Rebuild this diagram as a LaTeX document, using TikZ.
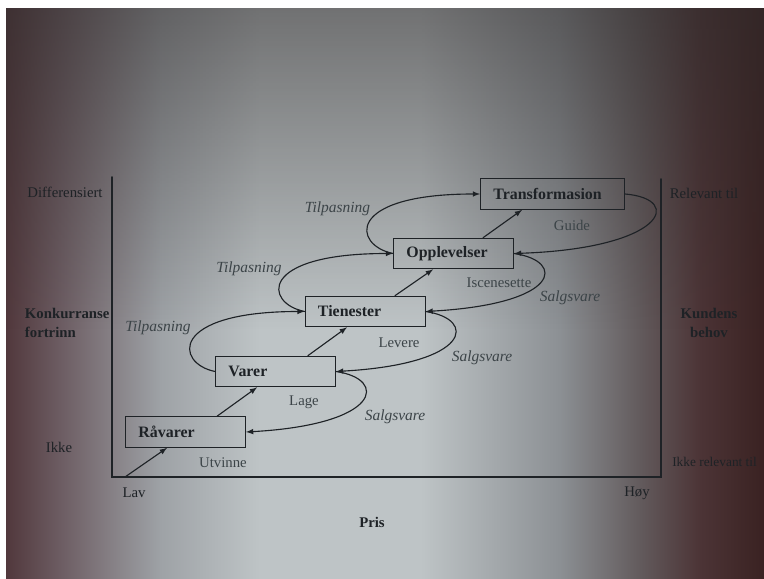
\documentclass[tikz,border=0pt]{standalone}
\usepackage{fontspec}
\setmainfont{Liberation Serif}
\usetikzlibrary{fadings}
\definecolor{blekk}{HTML}{1E2226}
\definecolor{graablekk}{HTML}{3C4448}
\definecolor{toppskygge}{HTML}{2E2A2A}
\definecolor{k1}{HTML}{4E3438}
\definecolor{k2}{HTML}{6C5C62}
\definecolor{k3}{HTML}{9EA2A6}
\definecolor{k4}{HTML}{BEC4C6}
\definecolor{k5}{HTML}{BEC4C6}
\definecolor{k6}{HTML}{8C9094}
\definecolor{k7}{HTML}{625A5C}
\definecolor{k8}{HTML}{4C3436}
\definecolor{k9}{HTML}{3A2222}
\pgfdeclarehorizontalshading{sider}{100bp}{color(0bp)=(k1); color(25bp)=(k1); color(28.9bp)=(k2); color(35.5bp)=(k3); color(42bp)=(k4); color(52.5bp)=(k5); color(61.6bp)=(k6); color(66.9bp)=(k7); color(70.8bp)=(k8); color(75bp)=(k9); color(100bp)=(k9)}
\tikzfading[name=oppover, bottom color=transparent!100, top color=transparent!0]
\begin{document}
\begin{tikzpicture}[x=0.025cm,y=0.025cm,line cap=round,
  trinn/.style={draw=blekk,line width=0.6pt,font=\fontsize{11.3}{13}\selectfont\bfseries,text=blekk,
    inner xsep=0.325cm,minimum height=0.77cm,text width=2.35cm,align=left},
  pil/.style={draw=blekk,line width=0.8pt,-latex},
  akse/.style={draw=blekk,line width=1.2pt},
  tekst/.style={font=\fontsize{10.5}{14}\selectfont,text=graablekk},
  randtekst/.style={font=\fontsize{10.5}{14}\selectfont,text=blekk},
  kursiv/.style={font=\fontsize{11}{13}\selectfont\itshape,text=graablekk},
  sidetekst/.style={font=\fontsize{10.5}{14}\selectfont\bfseries,text=blekk}]
\useasboundingbox (0,0) rectangle (764,579);
\shade[shading=sider] (0,0) rectangle (764,579);
\fill[toppskygge,fill opacity=0.55,path fading=oppover] (0,250) rectangle (764,579);
\fill[white] (0,571) rectangle (764,579);
\fill[white] (0,0) rectangle (6,579);
%\draw[step=50,very thin,color=gray] (0,0) grid (764,579);
\draw[akse] (112,402) -- (112,102) -- (661,102) -- (661,400);
\node[randtekst] (differensiert) at (65,387) {Differensiert};
\node[sidetekst,anchor=west,align=left] (konkurranse) at (20,256) {Konkurranse\\fortrinn};
\node[randtekst] (ikke) at (59,132) {Ikke};
\node[randtekst] (relevant) at (704,386) {Relevant til};
\node[sidetekst,align=center] (kundens) at (709,256) {Kundens\\behov};
\node[randtekst,anchor=west,inner sep=0pt,font=\fontsize{9.5}{12}\selectfont] (ikkerelevant) at (672,117) {Ikke relevant til};
\node[randtekst] (lav) at (134,86) {Lav};
\node[randtekst] (hoy) at (637,86) {Høy};
\node[sidetekst] (pris) at (372,57) {Pris};
\node[trinn] (ravarer) at (185.5,147) {Råvarer};
\node[trinn] (varer) at (275.5,207.5) {Varer};
\node[trinn] (tjenester) at (365,267.5) {Tienester};
\node[trinn] (opplevelser) at (453.5,325.5) {Opplevelser};
\node[trinn,text width=2.95cm] (transformasjon) at (552.5,385) {Transformasion};
\coordinate (origo) at (125,102);
\draw[pil] (origo) -- ([xshift=-0.46cm]ravarer.south);
\draw[pil] ([xshift=0.79cm]ravarer.north) -- ([xshift=-0.46cm]varer.south);
\draw[pil] ([xshift=0.81cm]varer.north) -- ([xshift=-0.45cm]tjenester.south);
\draw[pil] ([xshift=0.75cm]tjenester.north) -- ([xshift=-0.51cm]opplevelser.south);
\draw[pil] ([xshift=0.74cm]opplevelser.north) -- ([xshift=-0.76cm]transformasjon.south);
\node[tekst] (utvinne) at (223,116) {Utvinne};
\node[tekst] (lage) at (304,177) {Lage};
\node[tekst] (levere) at (399,236) {Levere};
\node[tekst] (iscenesette) at (499,296) {Iscenesette};
\node[tekst] (guide) at (572,354) {Guide};
\draw[pil] (varer.west) .. controls +(-40,8) and +(-136,0) .. (tjenester.west);
\draw[pil] (tjenester.west) .. controls +(-40,8) and +(-136,0) .. (opplevelser.west);
\draw[pil] (opplevelser.west) .. controls +(-40,8) and +(-136,0) .. (transformasjon.west);
\node[kursiv] (tilpasning1) at (158,251) {Tilpasning};
\node[kursiv] (tilpasning2) at (249,310) {Tilpasning};
\node[kursiv] (tilpasning3) at (337.5,370) {Tilpasning};
\draw[pil] (transformasjon.east) .. controls +(60,-5) and +(150,5) .. (opplevelser.east);
\draw[pil] (opplevelser.east) .. controls +(52,-7.5) and +(136,7.5) .. (tjenester.east);
\draw[pil] (tjenester.east) .. controls +(52,-7.5) and +(136,7.5) .. (varer.east);
\draw[pil] (varer.east) .. controls +(52,-7.5) and +(136,7.5) .. (ravarer.east);
\node[kursiv] (salgsvare1) at (570,281) {Salgsvare};
\node[kursiv] (salgsvare2) at (482,221) {Salgsvare};
\node[kursiv] (salgsvare3) at (395,162) {Salgsvare};
\end{tikzpicture}
\end{document}
